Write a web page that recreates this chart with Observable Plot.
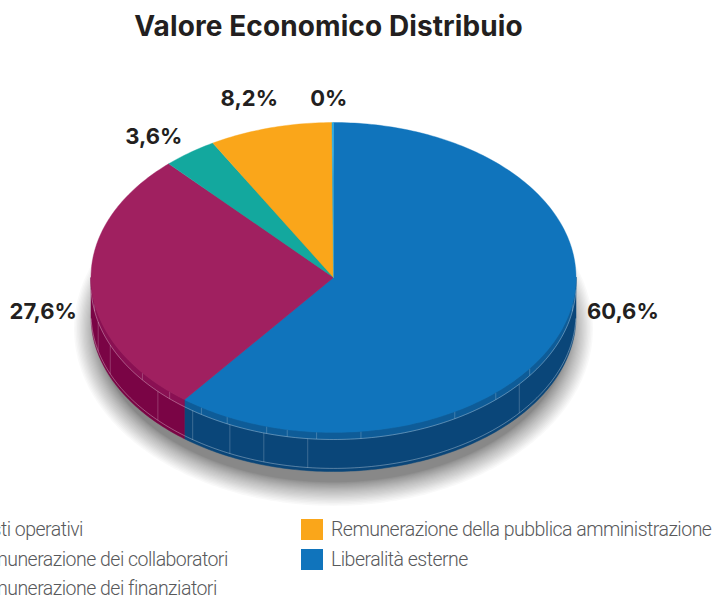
<!DOCTYPE html>
<html lang="it">
<head>
<meta charset="utf-8">
<script src="https://cdn.jsdelivr.net/npm/d3@7"></script>
<script src="https://cdn.jsdelivr.net/npm/@observablehq/plot@0.6"></script>
<style>
html,body{margin:0;padding:0;background:#fff;width:713px;height:597px;overflow:hidden}
#title{height:60px;box-sizing:border-box;padding:7px 0 0 0;text-align:center;font:700 28px/38px Inter,sans-serif;letter-spacing:0.1px;color:#231f20;position:relative;left:-28px}
#chart svg{display:block;overflow:visible}
#legend{display:grid;grid-template-rows:repeat(3,29.5px);grid-template-columns:362px auto;grid-auto-flow:column;margin:10px 0 0 -61px;white-space:nowrap;font:300 19.5px/29.5px Roboto,sans-serif;letter-spacing:-0.52px;color:#58595b}
.it{display:flex;align-items:center}
.sw{width:22px;height:21px;margin-right:8px;flex:none}
</style>
</head>
<body>
<div id="title">Valore Economico Distribuio</div>
<div id="chart"></div>
<div id="legend"></div>
<script>
const categories = ["Liberalità esterne","Remunerazione dei collaboratori","Remunerazione dei finanziatori","Remunerazione della pubblica amministrazione","Costi operativi"];
const values = [60.6,27.6,3.6,8.2,0.1];
const valueLabels = ["60,6%","27,6%","3,6%","8,2%","0%"];
const topColors = ["#1074bc","#a02060","#13a89e","#faa61a","#27aae1"];
const wallColors = ["#0a4679","#7a0445","#0b6f68","#a86d0c","#1a76a0"];
const rimColors = ["#0e5c98","#8a1053","#0e8a82","#c9850f","#1f8fc0"];
const labelDx = [60,-48,-36,-21,-4];
const labelDy = [-16,28,-16,-29,-24];
const legendOrder = ["Costi operativi","Remunerazione dei collaboratori","Remunerazione dei finanziatori","Remunerazione della pubblica amministrazione","Liberalità esterne"];
const seamWall = [130,186.1,196.7,205.3,215.5,226.4,247,256];
const seamRim = [100,126,138,150,173.5,184,191,196,206,213,222.5,232,260];

const W=713,H=445,cx=333,cy=217,rx=242.5,ry=155,depth=39/155,rim=7/155;
const rad=d=>d*Math.PI/180;
const px=a=>Math.sin(a), py=(a,z=0)=>-Math.cos(a)+z;
const arcs=d3.pie().sort(null).value(d=>d)(values);
function arc(a0,a1,z=0){const n=Math.max(2,Math.ceil((a1-a0)/rad(1)));return d3.range(n+1).map(i=>{const a=a0+(a1-a0)*i/n;return {x:px(a),y:py(a,z)}})}
const slices=arcs.map((s,i)=>({i,a0:s.startAngle,a1:s.endAngle,mid:(s.startAngle+s.endAngle)/2}));
function wedge(s){const p=[{x:0,y:0},...arc(s.a0,s.a1),{x:0,y:0}];return p}
function wall(s,z0,z1){const a0=Math.max(s.a0,rad(90)),a1=Math.min(s.a1,rad(270));if(a1<=a0)return null;return [...arc(a0,a1,z0),...arc(a0,a1,z1).reverse()]}
const marks=[];
// soft shadow of the disc: stacked translucent ellipses growing outward
const shadowRings=d3.range(1,25);
shadowRings.forEach(k=>{const e=24*Math.pow(k/24,1.5)-2,sx=(rx-5+e)/rx,sy=(ry+e)/ry;
  const ring=arc(0,2*Math.PI,0).map(p=>({x:p.x*sx,y:p.y*sy+depth+0.08}));
  marks.push(Plot.line(ring,{x:"x",y:"y",fill:"#000",stroke:"none",fillOpacity:0.024}));});
// side walls
slices.forEach(s=>{const w=wall(s,0,depth);if(w)marks.push(Plot.line([...w,w[0]],{x:"x",y:"y",fill:wallColors[s.i],stroke:wallColors[s.i],strokeWidth:0.5}))});
slices.forEach(s=>{const w=wall(s,0,rim);if(w)marks.push(Plot.line([...w,w[0]],{x:"x",y:"y",fill:rimColors[s.i],stroke:rimColors[s.i],strokeWidth:0.5}))});
// thin highlights on the wall
const front=[rad(92),rad(268)];
[rim,depth-0.02].forEach(z=>marks.push(Plot.line(arc(front[0],front[1],z),{x:"x",y:"y",stroke:"#fff",strokeOpacity:0.45,strokeWidth:0.7})));
const links=(list,z0,z1)=>Plot.link(list,{x1:d=>px(rad(d)),x2:d=>px(rad(d)),y1:d=>py(rad(d),z0),y2:d=>py(rad(d),z1),stroke:"#fff",strokeOpacity:0.3,strokeWidth:0.7});
marks.push(links(seamWall,rim,depth-0.02),links(seamRim,0,rim));
// top face
slices.forEach(s=>marks.push(Plot.line(wedge(s),{x:"x",y:"y",fill:topColors[s.i],stroke:topColors[s.i],strokeWidth:0.4})));
// value labels
slices.forEach(s=>marks.push(Plot.text([s],{x:d=>px(d.mid),y:d=>py(d.mid),text:d=>valueLabels[d.i],dx:labelDx[s.i],dy:labelDy[s.i],fontFamily:"Inter, sans-serif",fontWeight:700,fontSize:22,fill:"#231f20"})));

const plot=Plot.plot({width:W,height:H,margin:0,
  x:{domain:[-cx/rx,(W-cx)/rx],range:[0,W],axis:null},
  y:{domain:[-cy/ry,(H-cy)/ry],range:[0,H],axis:null},
  marks});
document.getElementById("chart").append(plot);
const lg=document.getElementById("legend");
legendOrder.forEach(name=>{const k=categories.indexOf(name);const it=document.createElement("div");it.className="it";
  const sw=document.createElement("span");sw.className="sw";sw.style.background=topColors[k];
  const t=document.createElement("span");t.textContent=name;it.append(sw,t);lg.append(it)});
</script>
</body>
</html>
